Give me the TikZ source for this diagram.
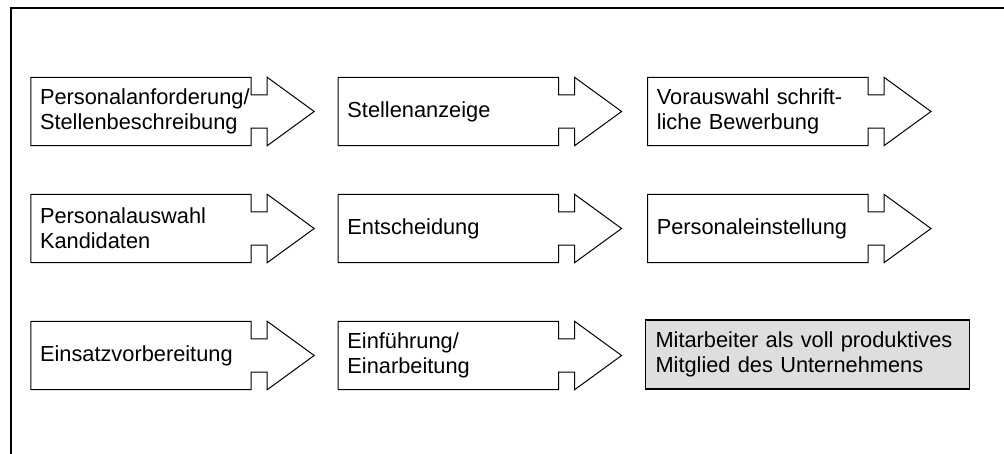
\documentclass[tikz,border=0pt]{standalone}
\usepackage{fontspec}
\setmainfont{Liberation Sans}
\usetikzlibrary{positioning,calc}
\tikzset{
    step-box/.style = {rectangle, minimum width=220pt, minimum height=68pt, inner xsep=9pt, text width=202pt, align=left, font=\fontsize{21.8}{25}\selectfont},
    step-outline/.style = {draw=black, line width=1pt, fill=white, line join=miter},
    goal-box/.style = {draw=black, line width=1.6pt, fill=black!13, rectangle, minimum width=324pt, minimum height=69pt, inner xsep=10pt, text width=304pt, align=left, font=\fontsize{21.8}{25}\selectfont},
}
% outline of a box with notched arrow head
\newcommand{\steparrow}[1]{%
  \draw[step-outline] (#1.north west) -- (#1.north east) -- ++(0,17.5) -- ++(16,0) -- ++(0,-17.5)
    -- ($(#1.east)+(63,0)$) -- ($(#1.south east)+(16,0)$) -- ++(0,-17.5) -- ++(-16,0) -- ++(0,17.5)
    -- (#1.south west) -- cycle;}
\begin{document}
\begin{tikzpicture}[x=1pt, y=-1pt]
\useasboundingbox (0,0) rectangle (1004,454);
% frame
\coordinate (frame-bl) at (11,454);
\coordinate (frame-tl) at (11,8);
\coordinate (frame-tr) at (1004,8);
\draw[line width=2.4pt] (frame-bl) -- (frame-tl) -- (frame-tr);

% row 1
\node [step-box] (anforderung) at (141,111.5) {};
\node [step-box, right=87pt of anforderung] (anzeige) {};
\node [step-box, right=89pt of anzeige] (vorauswahl) {};
% row 2
\node [step-box] (auswahl) at (141,228.5) {};
\node [step-box, right=87pt of auswahl] (entscheidung) {};
\node [step-box, right=89pt of entscheidung] (einstellung) {};
% row 3
\node [step-box] (einsatz) at (141,355.5) {};
\node [step-box, right=87pt of einsatz] (einfuehrung) {};

\foreach \n in {anforderung,anzeige,vorauswahl,auswahl,entscheidung,einstellung,einsatz,einfuehrung}
  {\steparrow{\n}}

\node [step-box] at (anforderung) {Personalanforderung/\\Stellenbeschreibung};
\node [step-box] at (anzeige) {Stellenanzeige};
\node [step-box] at (vorauswahl) {Vorauswahl schrift-\\liche Bewerbung};
\node [step-box] at (auswahl) {Personalauswahl\\Kandidaten};
\node [step-box] at (entscheidung) {Entscheidung};
\node [step-box] at (einstellung) {Personaleinstellung};
\node [step-box] at (einsatz) {Einsatzvorbereitung};
\node [step-box] at (einfuehrung) {Einführung/\\Einarbeitung};

\node [goal-box] (mitglied) at (807.5,354.5) {Mitarbeiter als voll produktives\\Mitglied des Unternehmens};
\end{tikzpicture}
\end{document}
